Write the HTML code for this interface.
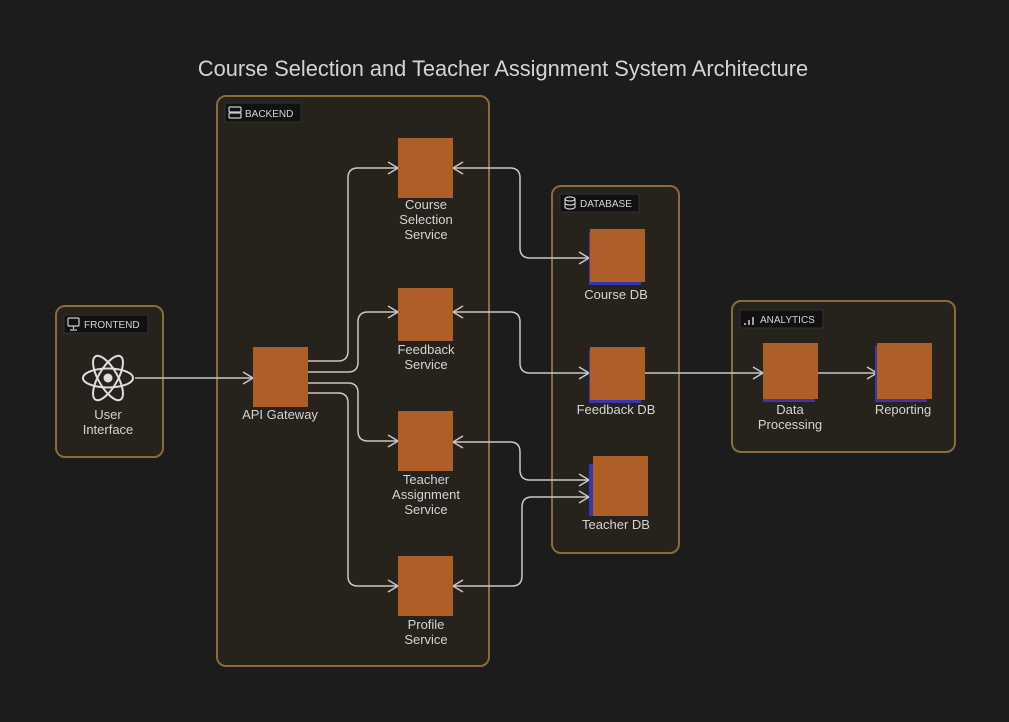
<!DOCTYPE html>
<html><head><meta charset="utf-8"><style>
html,body{margin:0;padding:0;background:#1c1c1c;}
svg{display:block;}
text{font-family:"Liberation Sans",sans-serif;fill:#d4d4d4;}
</style></head><body>
<svg width="1009" height="722" viewBox="0 0 1009 722" xmlns="http://www.w3.org/2000/svg">
<rect width="1009" height="722" fill="#1c1c1c"/>
<text x="503" y="76" font-size="21.8" text-anchor="middle" fill="#cfcfcf">Course Selection and Teacher Assignment System Architecture</text>

<g fill="#26221c" stroke="#8a6b3c" stroke-width="2">
<rect x="56" y="306" width="107" height="151" rx="9"/>
<rect x="217" y="96" width="272" height="570" rx="9"/>
<rect x="552" y="186" width="127" height="367" rx="9"/>
<rect x="732" y="301" width="223" height="151" rx="9"/>
</g>
<g fill="#111" stroke="#333" stroke-width="1">
<rect x="64" y="315" width="84" height="18"/>
<rect x="225" y="103" width="76" height="19"/>
<rect x="560" y="194" width="79" height="18"/>
<rect x="740" y="310" width="83" height="18"/>
</g>
<g font-size="10" fill="#ccc">
<text x="84" y="328">FRONTEND</text>
<text x="245" y="117">BACKEND</text>
<text x="580" y="207">DATABASE</text>
<text x="760" y="323">ANALYTICS</text>
</g>
<g stroke="#ccc" fill="none" stroke-width="1.2">
<rect x="68" y="318" width="11" height="8" rx="1"/><path d="M73.5 326v3M70 330h7"/>
<rect x="229" y="107" width="12" height="5" rx="1"/><rect x="229" y="113" width="12" height="5" rx="1"/>
<ellipse cx="570" cy="199" rx="5" ry="2"/><path d="M565 199v8a5 2 0 0 0 10 0v-8M565 203a5 2 0 0 0 10 0"/>
<path d="M745 325v-2M749 325v-5M753 325v-8" stroke-width="1.5"/>
</g>

<g stroke="#ddd" stroke-width="2" fill="none">
<ellipse cx="108" cy="378" rx="25" ry="9.5"/>
<ellipse cx="108" cy="378" rx="25" ry="9.5" transform="rotate(60 108 378)"/>
<ellipse cx="108" cy="378" rx="25" ry="9.5" transform="rotate(-60 108 378)"/>
</g>
<circle cx="108" cy="378" r="4.5" fill="#ddd"/>

<g stroke="#c8c8c8" stroke-width="1.5" fill="none">
<path d="M135 378H253"/>
<path d="M308 361H338Q348 361 348 351V178Q348 168 358 168H398"/>
<path d="M308 372H348Q358 372 358 362V322Q358 312 368 312H398"/>
<path d="M308 383H348Q358 383 358 393V431Q358 441 368 441H398"/>
<path d="M308 393H338Q348 393 348 403V576Q348 586 358 586H398"/>
<path d="M453 168H510Q520 168 520 178V248Q520 258 530 258H589"/>
<path d="M453 312H510Q520 312 520 322V363Q520 373 530 373H589"/>
<path d="M453 442H510Q520 442 520 452V470Q520 480 530 480H589"/>
<path d="M453 586H512Q522 586 522 576V507Q522 497 532 497H589"/>
<path d="M644 373H763"/>
<path d="M818 373H877"/>
</g>
<g stroke="#c8c8c8" stroke-width="1.5" fill="none">
<path d="M243 372L253 378L243 384"/>
<path d="M388 162L398 168L388 174"/>
<path d="M388 306L398 312L388 318"/>
<path d="M388 435L398 441L388 447"/>
<path d="M388 580L398 586L388 592"/>
<path d="M463 162L453 168L463 174"/>
<path d="M463 306L453 312L463 318"/>
<path d="M463 436L453 442L463 448"/>
<path d="M463 580L453 586L463 592"/>
<path d="M579 252L589 258L579 264"/>
<path d="M579 367L589 373L579 379"/>
<path d="M579 474L589 480L579 486"/>
<path d="M579 491L589 497L579 503"/>
<path d="M753 367L763 373L753 379"/>
<path d="M867 367L877 373L867 379"/>
</g>

<g fill="#3a36b0">
<rect x="589" y="232" width="52" height="53"/>
<rect x="589" y="350" width="52" height="53"/>
<rect x="589" y="464" width="52" height="52"/>
<rect x="763" y="346" width="52" height="56"/>
<rect x="875" y="346" width="52" height="56"/>
</g>
<g fill="#ad5f27">
<rect x="253" y="347" width="55" height="60"/>
<rect x="398" y="138" width="55" height="60"/>
<rect x="398" y="288" width="55" height="53"/>
<rect x="398" y="411" width="55" height="60"/>
<rect x="398" y="556" width="55" height="60"/>
<rect x="590" y="229" width="55" height="53"/>
<rect x="590" y="347" width="55" height="53"/>
<rect x="593" y="456" width="55" height="60"/>
<rect x="763" y="343" width="55" height="56"/>
<rect x="877" y="343" width="55" height="56"/>
</g>

<g font-size="13" text-anchor="middle">
<text x="108" y="419">User</text><text x="108" y="434">Interface</text>
<text x="280" y="419">API Gateway</text>
<text x="426" y="209">Course</text><text x="426" y="224">Selection</text><text x="426" y="239">Service</text>
<text x="426" y="354">Feedback</text><text x="426" y="369">Service</text>
<text x="426" y="484">Teacher</text><text x="426" y="499">Assignment</text><text x="426" y="514">Service</text>
<text x="426" y="629">Profile</text><text x="426" y="644">Service</text>
<text x="616" y="299">Course DB</text>
<text x="616" y="414">Feedback DB</text>
<text x="616" y="529">Teacher DB</text>
<text x="790" y="414">Data</text><text x="790" y="429">Processing</text>
<text x="903" y="414">Reporting</text>
</g>
</svg>
</body></html>
